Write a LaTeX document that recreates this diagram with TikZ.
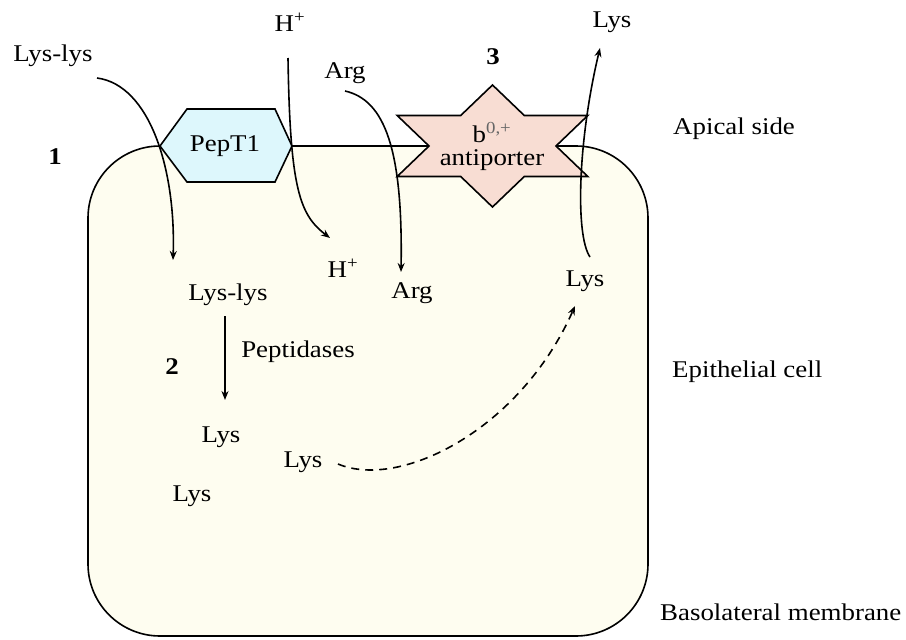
\documentclass[tikz,border=0pt]{standalone}
\usepackage{fontspec}
\setmainfont{Liberation Serif}[FakeStretch=1.12]
\usetikzlibrary{arrows.meta}
\definecolor{cellfill}{HTML}{FEFDF0}
\definecolor{hexfill}{HTML}{DDF7FC}
\definecolor{starfill}{HTML}{F8DDD3}
\begin{document}
\begin{tikzpicture}[x=1pt,y=-1pt,
  lbl/.style={font=\fontsize{24}{26}\selectfont, inner sep=0pt},
  lblw/.style={lbl, anchor=west},
  num/.style={font=\fontsize{24}{26}\selectfont\bfseries, inner sep=0pt},
  outline/.style={line width=1.6pt, line join=miter},
  flow/.style={line width=1.6pt, -{Stealth[length=9pt,width=7pt]}},
  dflow/.style={flow, dashed, dash pattern=on 8pt off 6pt},
]
\useasboundingbox (0,0) rectangle (906,640);
% cell
\draw[outline, fill=cellfill, rounded corners=72pt] (88,146) rectangle (648,636);
% PepT1 hexagon
\draw[outline, fill=hexfill] (160,146) -- (187,109) -- (275,109) -- (292,146) -- (275,182) -- (187,182) -- cycle;
\node[lbl] (pept) at (225,146) {PepT1};
% b0,+ antiporter star
\draw[outline, fill=starfill] (492.5,85) -- (524.3,115.5) -- (587.8,115.5) -- (556,146) -- (587.8,176.5) -- (524.3,176.5) -- (492.5,207) -- (460.7,176.5) -- (397.2,176.5) -- (429,146) -- (397.2,115.5) -- (460.7,115.5) -- cycle;
\node[lbl, align=center] (anti) at (492,146) {b\textsuperscript{\color{black!60}0,+}\\[-3pt]antiporter};
% labels
\node[lbl] (lyslysout) at (53,56) {Lys-lys};
\node[lbl] (hout) at (290,22) {H\textsuperscript{+}};
\node[lbl] (argout) at (345,73) {Arg};
\node[num] (n3) at (493,57) {3};
\node[lbl] (lysout) at (612,22) {Lys};
\node[lblw] (apical) at (673,129) {Apical side};
\node[num] (n1) at (55,157) {1};
\node[lbl] (hin) at (343,268) {H\textsuperscript{+}};
\node[lbl] (argin) at (412,293) {Arg};
\node[lbl] (lysin) at (585,281) {Lys};
\node[lbl] (lyslysin) at (228,295) {Lys-lys};
\node[lbl] (pep) at (298,352) {Peptidases};
\node[num] (n2) at (172,367) {2};
\node[lblw] (epi) at (672,372) {Epithelial cell};
\node[lbl] (lysa) at (221,437) {Lys};
\node[lbl] (lysb) at (303,462) {Lys};
\node[lbl] (lysc) at (192,496) {Lys};
\node[lblw] (baso) at (660,612) {Basolateral membrane};
% connector endpoints
\coordinate (a1s) at (97,78);
\coordinate (a1e) at (173,260);
\coordinate (a2s) at (288,58);
\coordinate (a2e) at (330,238);
\coordinate (a3s) at (345,91);
\coordinate (a3e) at (401,272);
\coordinate (a4s) at (590,257);
\coordinate (a4e) at (600,48);
\coordinate (a5s) at (338,464);
\coordinate (a5e) at (575,306);
\coordinate (a6s) at (225,316);
\coordinate (a6e) at (225,400);
% arrows
\draw[flow] (a1s) .. controls (150,85) and (176,170) .. (a1e);
\draw[flow] (a2s) .. controls (290,190) and (300,215) .. (a2e);
\draw[flow] (a3s) .. controls (385,100) and (403,150) .. (a3e);
\draw[flow] (a4s) .. controls (575,235) and (578,140) .. (a4e);
\draw[dflow] (a5s) .. controls (400,490) and (520,430) .. (a5e);
\draw[flow] (a6s) -- (a6e);
\end{tikzpicture}
\end{document}
